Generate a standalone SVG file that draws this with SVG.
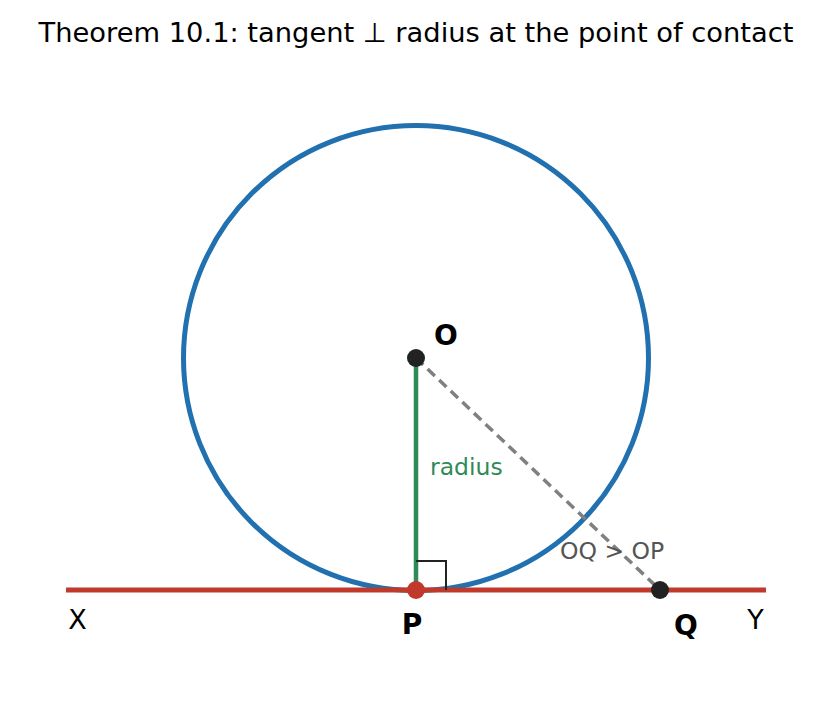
<svg xmlns="http://www.w3.org/2000/svg" width="831" height="727" viewBox="0 0 831 727">
<style>
text{font-family:"DejaVu Sans","Liberation Sans",sans-serif}
.title{font-size:27.3px;fill:#000}
.lbl{font-size:28px;font-weight:bold;fill:#000}
.end{font-size:27px;fill:#000}
</style>
<rect width="831" height="727" fill="#fff"/>
<text class="title" x="416" y="42" text-anchor="middle">Theorem 10.1: tangent ⊥ radius at the point of contact</text>
<g id="circle"><circle cx="416" cy="358" r="232.5" fill="none" stroke="#2170b0" stroke-width="5"/></g>
<g id="connectors">
<line id="tangent" x1="66" y1="590" x2="766" y2="590" stroke="#c0392b" stroke-width="5"/>
<line id="radius" x1="416" y1="358" x2="416" y2="590" stroke="#2e8b57" stroke-width="4.5"/>
<line id="oq" x1="416" y1="358" x2="660" y2="590" stroke="#808080" stroke-width="3.5" stroke-dasharray="10 6"/>
<polyline id="rightangle" points="416,561 446,561 446,590" fill="none" stroke="#222" stroke-width="2"/>
</g>
<text x="430" y="475" font-size="23.5" fill="#2e8b57" style="font-family:'DejaVu Sans',sans-serif">radius</text>
<text x="560" y="559" font-size="23.5" fill="#555" style="font-family:'DejaVu Sans',sans-serif">OQ &gt; OP</text>
<g id="O"><circle cx="416" cy="358" r="9" fill="#222"/><text class="lbl" x="434" y="345">O</text></g>
<g id="P"><circle cx="416" cy="590" r="9" fill="#c0392b"/><text class="lbl" x="412" y="634" text-anchor="middle">P</text></g>
<g id="Q"><circle cx="660" cy="590" r="9" fill="#222"/><text class="lbl" x="686" y="635" text-anchor="middle">Q</text></g>
<g id="X"><text class="end" x="77.5" y="629" text-anchor="middle">X</text></g>
<g id="Y"><text class="end" x="755.5" y="629" text-anchor="middle">Y</text></g>
</svg>
